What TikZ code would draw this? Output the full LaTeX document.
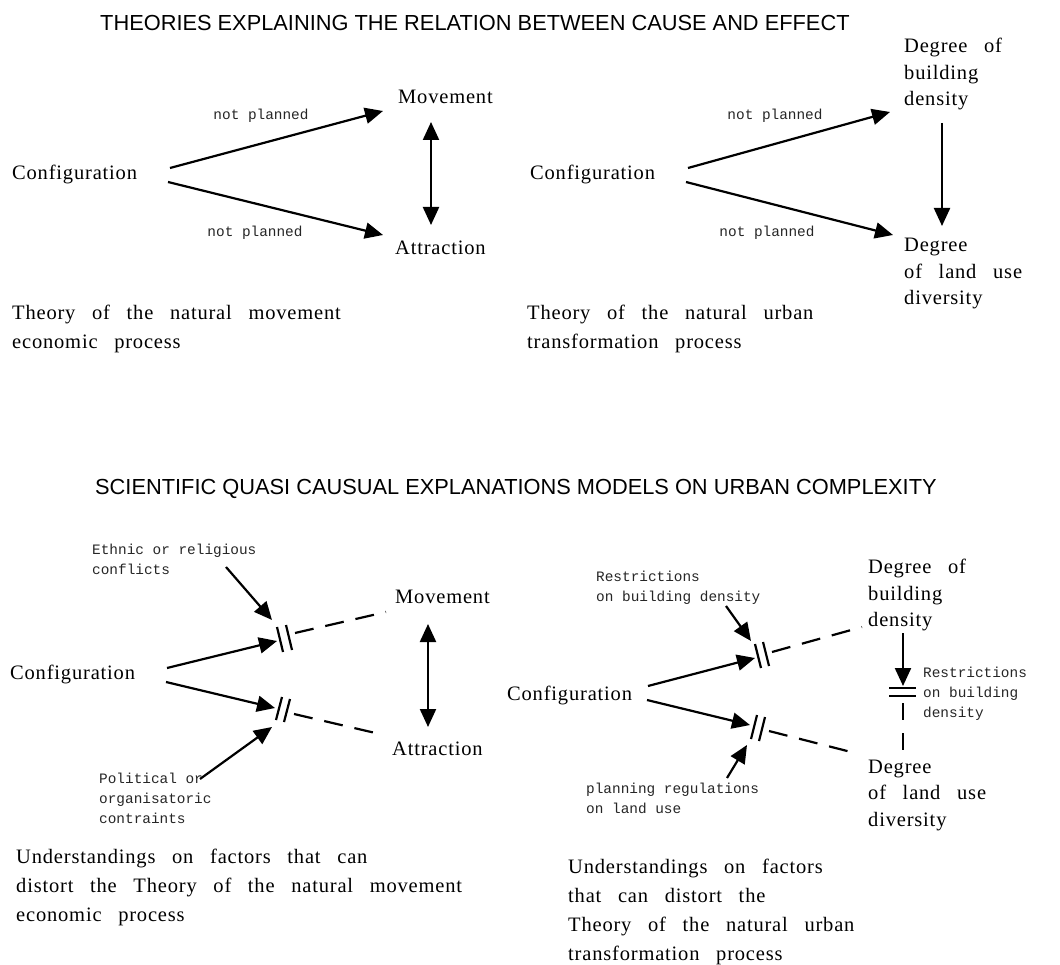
\documentclass[tikz,border=0pt]{standalone}
\usepackage{fontspec}
\setmainfont{Liberation Serif}
\newfontfamily\serfont[LetterSpace=4,WordSpace=2.8]{Liberation Serif}
\newfontfamily\monofont{Liberation Mono}
\newfontfamily\headfont{Liberation Sans}
\usetikzlibrary{arrows.meta}
\begin{document}
\begin{tikzpicture}[x=1pt,y=-1pt,
  lbl/.style={font=\serfont\fontsize{20.5}{29}\selectfont, inner sep=0pt, anchor=west, align=left},
  deg/.style={font=\serfont\fontsize{20.5}{26.5}\selectfont, inner sep=0pt, anchor=west, align=left},
  mono/.style={font=\monofont\fontsize{14.4}{20}\selectfont, text=black!85, inner sep=0pt, anchor=west, align=left},
  np/.style={font=\monofont\fontsize{14.4}{20}\selectfont, text=black!85, inner sep=0pt},
  head/.style={font=\headfont\fontsize{21.8}{26}\selectfont, inner sep=0pt, anchor=west},
  arr/.style={line width=2.2pt, -{Triangle[length=18pt,width=16pt]}},
  darr/.style={line width=2.2pt, {Triangle[length=18pt,width=16pt]}-{Triangle[length=18pt,width=16pt]}},
  dsh/.style={line width=2.2pt, dash pattern=on 19pt off 12pt},
  brk/.style={line width=2.2pt}
]
\fill[white] (0,0) rectangle (1060,965);
\useasboundingbox (0,0) rectangle (1060,965);

% ---------------- titles
\node[head] (t1) at (100,23) {THEORIES EXPLAINING THE RELATION BETWEEN CAUSE AND EFFECT};
\node[head] (t2) at (95,489) {SCIENTIFIC QUASI CAUSUAL EXPLANATIONS MODELS ON URBAN COMPLEXITY};

% ---------------- panel 1
\node[lbl] (cfg1) at (12,174) {Configuration};
\node[lbl] (mov1) at (398,97) {Movement};
\node[lbl] (att1) at (395,248) {Attraction};
\node[np] (np1) at (261,116) {not planned};
\node[np] (np2) at (255,233) {not planned};
\node[lbl] (cap1) at (12,328.5) {Theory of the natural movement\\economic process};
\coordinate (cfg1u) at (170,168);
\coordinate (mov1in) at (383,111);
\coordinate (cfg1d) at (168,182);
\coordinate (att1in) at (383,235);
\coordinate (mov1b) at (431,122);
\coordinate (att1t) at (431,225);
\draw[arr] (cfg1u) -- (mov1in);
\draw[arr] (cfg1d) -- (att1in);
\draw[darr] (mov1b) -- (att1t);

% ---------------- panel 2
\node[lbl] (cfg2) at (530,174) {Configuration};
\node[deg] (dbd2) at (904,74) {Degree of\\building\\density};
\node[deg] (dlu2) at (904,274) {Degree\\of land use\\diversity};
\node[np] (np3) at (775,116) {not planned};
\node[np] (np4) at (767,233) {not planned};
\node[lbl] (cap2) at (527,328.5) {Theory of the natural urban\\transformation process};
\coordinate (cfg2u) at (688,168);
\coordinate (dbd2in) at (890,112);
\coordinate (cfg2d) at (686,182);
\coordinate (dlu2in) at (893,235);
\coordinate (dbd2b) at (942,123);
\coordinate (dlu2t) at (942,226);
\draw[arr] (cfg2u) -- (dbd2in);
\draw[arr] (cfg2d) -- (dlu2in);
\draw[arr] (dbd2b) -- (dlu2t);

% ---------------- panel 3
\node[mono] (eth) at (92,559) {Ethnic or religious\\conflicts};
\node[lbl] (cfg3) at (10,674) {Configuration};
\node[lbl] (mov3) at (395,597) {Movement};
\node[lbl] (att3) at (392,749) {Attraction};
\node[mono] (pol) at (99,798.5) {Political or\\organisatoric\\contraints};
\node[lbl] (cap3) at (16,887.5) {Understandings on factors that can\\distort the Theory of the natural movement\\economic process};
\coordinate (ethout) at (226,567);
\coordinate (b3u) at (272,620);
\coordinate (cfg3u) at (167,668);
\coordinate (b3uin) at (277,641);
\coordinate (b3uout) at (295,633);
\coordinate (mov3in) at (386,612);
\coordinate (cfg3d) at (166,682);
\coordinate (b3din) at (275,708);
\coordinate (b3dout) at (294,714);
\coordinate (att3in) at (384,735);
\coordinate (polout) at (200,779);
\coordinate (b3d) at (272,727);
\coordinate (mov3b) at (428,624);
\coordinate (att3t) at (428,727);
\draw[arr] (ethout) -- (b3u);
\draw[arr] (cfg3u) -- (b3uin);
\draw[brk] (277,627) -- (283,652) (286,625) -- (292,650);
\draw[dsh] (b3uout) -- (mov3in);
\draw[arr] (cfg3d) -- (b3din);
\draw[brk] (282,697) -- (276,720) (290,699) -- (284,722);
\draw[dsh] (b3dout) -- (att3in);
\draw[arr] (polout) -- (b3d);
\draw[darr] (mov3b) -- (att3t);

% ---------------- panel 4
\node[mono] (rst1) at (596,588) {Restrictions\\on building density};
\node[deg] (dbd4) at (868,595) {Degree of\\building\\density};
\node[lbl] (cfg4) at (507,695) {Configuration};
\node[mono] (rst2) at (923,693.5) {Restrictions\\on building\\density};
\node[mono] (plr) at (586,798) {planning regulations\\on land use};
\node[deg] (dlu4) at (868,795) {Degree\\of land use\\diversity};
\node[lbl] (cap4) at (568,911.5) {Understandings on factors\\that can distort the\\Theory of the natural urban\\transformation process};
\coordinate (rst1out) at (726,606);
\coordinate (b4u) at (751,641);
\coordinate (cfg4u) at (648,686);
\coordinate (b4uin) at (755,658);
\coordinate (b4uout) at (772,652);
\coordinate (dbd4in) at (862,627);
\coordinate (cfg4d) at (647,700);
\coordinate (b4din) at (750,725);
\coordinate (b4dout) at (769,731);
\coordinate (dlu4in) at (855,753);
\coordinate (plrout) at (727,778);
\coordinate (b4d) at (747,745);
\coordinate (dbd4b) at (903,633);
\coordinate (eqt) at (903,686);
\coordinate (eqb) at (903,703);
\coordinate (dlu4t) at (903,755);
\draw[arr] (rst1out) -- (b4u);
\draw[arr] (cfg4u) -- (b4uin);
\draw[brk] (755,644) -- (761,668) (763,642) -- (769,666);
\draw[dsh] (b4uout) -- (dbd4in);
\draw[arr] (cfg4d) -- (b4din);
\draw[brk] (757,715) -- (751,739) (765,717) -- (759,741);
\draw[dsh] (b4dout) -- (dlu4in);
\draw[arr] (plrout) -- (b4d);
\draw[arr] (dbd4b) -- (eqt);
\draw[brk] (889,688) -- (916,688) (889,696) -- (916,696);
\draw[line width=2.2pt, dash pattern=on 17pt off 13pt] (eqb) -- (dlu4t);
\end{tikzpicture}
\end{document}
